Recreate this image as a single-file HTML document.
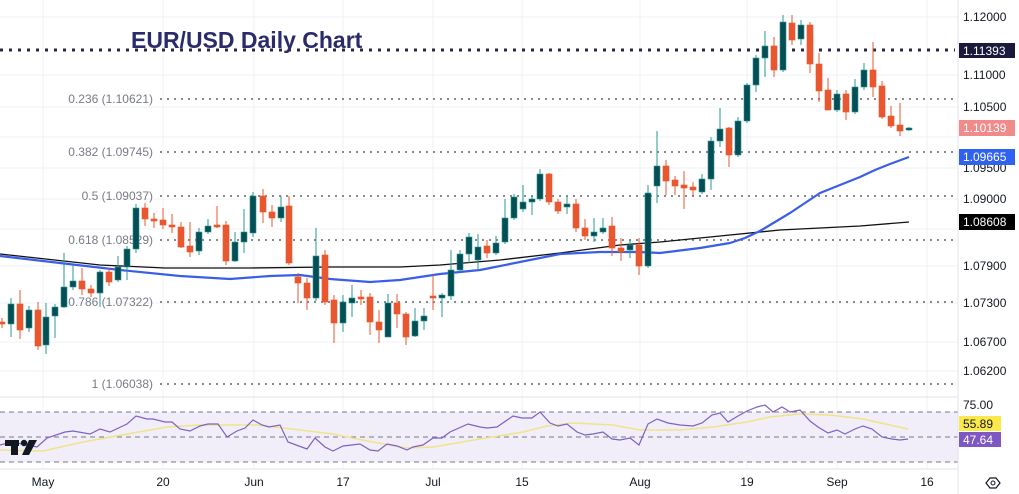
<!DOCTYPE html>
<html><head><meta charset="utf-8"><style>
html,body{margin:0;padding:0;background:#fff;width:1019px;height:494px;overflow:hidden}
svg{display:block;font-family:"Liberation Sans",sans-serif}
</style></head><body>
<svg id="s" width="1019" height="494" viewBox="0 0 1019 494" xmlns="http://www.w3.org/2000/svg">
<rect width="1019" height="494" fill="#fff"/>
<g stroke="#eef0f3" stroke-width="1">
<line x1="43" y1="0" x2="43" y2="469"/><line x1="163" y1="0" x2="163" y2="469"/><line x1="254" y1="0" x2="254" y2="469"/><line x1="343" y1="0" x2="343" y2="469"/><line x1="433" y1="0" x2="433" y2="469"/><line x1="522" y1="0" x2="522" y2="469"/><line x1="640" y1="0" x2="640" y2="469"/><line x1="747" y1="0" x2="747" y2="469"/><line x1="837" y1="0" x2="837" y2="469"/><line x1="927" y1="0" x2="927" y2="469"/>
<line x1="0" y1="17" x2="958" y2="17"/><line x1="0" y1="75" x2="958" y2="75"/><line x1="0" y1="107" x2="958" y2="107"/><line x1="0" y1="137" x2="958" y2="137"/><line x1="0" y1="168" x2="958" y2="168"/><line x1="0" y1="199" x2="958" y2="199"/><line x1="0" y1="229" x2="958" y2="229"/><line x1="0" y1="266" x2="958" y2="266"/><line x1="0" y1="303" x2="958" y2="303"/><line x1="0" y1="342" x2="958" y2="342"/><line x1="0" y1="371" x2="958" y2="371"/>
</g>
<g font-size="12" fill="#787b86" text-anchor="end">
<text x="153" y="103">0.236 (1.10621)</text>
<text x="153" y="156">0.382 (1.09745)</text>
<text x="153" y="200">0.5 (1.09037)</text>
<text x="153" y="244">0.618 (1.08529)</text>
<text x="153" y="306">0.786 (1.07322)</text>
<text x="153" y="388">1 (1.06038)</text>
</g>
<g stroke="#8a8a8a" stroke-width="2" stroke-dasharray="2 5">
<line x1="160" y1="99" x2="955" y2="99"/><line x1="160" y1="152" x2="955" y2="152"/><line x1="160" y1="196" x2="955" y2="196"/><line x1="160" y1="240" x2="955" y2="240"/><line x1="160" y1="302" x2="955" y2="302"/><line x1="160" y1="384" x2="955" y2="384"/>
</g>
<line x1="0" y1="50" x2="955" y2="50" stroke="#2a2840" stroke-width="3" stroke-dasharray="3 6"/>
<text x="131" y="48" font-size="23" font-weight="bold" fill="#2b2b6b">EUR/USD Daily Chart</text>
<polyline fill="none" stroke="#111" stroke-width="1.3" stroke-linejoin="round" points="0,254 100,265 165,268 250,268 330,267 400,267 440,265 500,260 560,253 620,245 660,242 720,236 780,230 860,226 909,222"/>
<polyline fill="none" stroke="#3a5ee8" stroke-width="2.2" stroke-linejoin="round" points="0,256 60,263 120,270 180,276 230,279 270,276 300,275 330,279 370,282 400,280 440,274 480,270 520,262 560,254 600,252 640,252 660,253 700,248 730,243 745,238 760,231 775,222 790,213 805,203 820,193 840,185 860,177 875,170 890,164 909,157"/>
<g id="c"></g>
<line x1="0" y1="397" x2="958" y2="397" stroke="#e0e3eb"/>
<rect x="0" y="412" width="958" height="50" fill="#f1eefa"/>
<g stroke="#787b86" stroke-dasharray="5 4" stroke-width="1"><line x1="0" y1="412" x2="958" y2="412"/><line x1="0" y1="437" x2="958" y2="437"/><line x1="0" y1="462" x2="958" y2="462"/></g>
<polyline fill="none" stroke="#f0e38a" stroke-width="1.6" points="0,450 43,451 83,442 133,433 167,427 200,425 257,425 300,430 333,434 367,441 407,448 433,447 480,439 523,432 547,426 573,423 613,425 640,430 680,430 713,427 747,422 770,417 800,414 830,415 863,419 908,429"/>
<polyline fill="none" stroke="#7e62c2" stroke-width="1.2" points="0,445 12,442 37,447 47,438 65,432 73,431 90,434 100,429 110,432 127,424 136,416 147,419 153,419 165,422 172,422 180,429 190,431 200,426 208,424 218,424 227,437 237,431 245,428 253,420 262,425 269,427 280,425 288,442 307,449 315,438 325,447 333,451 343,446 360,444 370,450 378,451 387,444 397,446 407,450 413,447 423,445 433,438 442,438 450,432 468,424 480,427 487,428 497,427 513,416 522,418 532,418 540,412 550,423 558,426 567,424 577,432 585,435 593,434 603,432 612,439 620,440 630,438 639,445 648,424 657,419 668,423 680,425 693,426 702,423 712,415 720,413 728,422 738,416 747,411 757,407 765,405 773,412 782,407 790,412 800,410 810,421 818,427 828,433 837,430 845,434 855,429 863,426 872,429 882,437 892,439 900,440 908,439"/>
<g fill="#131722"><rect x="5" y="440" width="14" height="6"/><rect x="11" y="440" width="7" height="15"/><circle cx="24" cy="443" r="3.2"/><polygon points="29,440 37,440 29,455 22,455"/></g>
<line x1="0" y1="469" x2="958" y2="469" stroke="#e0e3eb"/>
<line x1="958" y1="0" x2="958" y2="494" stroke="#e0e3eb"/>
<g font-size="12" fill="#131722" text-anchor="middle">
<text x="43" y="486">May</text><text x="163" y="486">20</text><text x="254" y="486">Jun</text><text x="343" y="486">17</text><text x="433" y="486">Jul</text><text x="522" y="486">15</text><text x="640" y="486">Aug</text><text x="747" y="486">19</text><text x="837" y="486">Sep</text><text x="927" y="486">16</text>
</g>
<g font-size="12" fill="#131722">
<text x="963" y="21">1.12000</text><text x="963" y="79">1.11000</text><text x="963" y="111">1.10500</text><text x="963" y="172">1.09500</text><text x="963" y="203">1.09000</text><text x="963" y="270">1.07900</text><text x="963" y="307">1.07300</text><text x="963" y="346">1.06700</text><text x="963" y="375">1.06200</text><text x="963" y="409">75.00</text>
</g>
<rect x="959" y="43" width="56" height="15" fill="#1c1a3c"/><text x="963" y="55" font-size="12" fill="#fff">1.11393</text>
<rect x="959" y="120" width="56" height="16" fill="#f28a8a"/><text x="963" y="132" font-size="12" fill="#fff">1.10139</text>
<rect x="959" y="149" width="56" height="16" fill="#2f62f0"/><text x="963" y="161" font-size="12" fill="#fff">1.09665</text>
<rect x="959" y="214" width="56" height="16" fill="#000"/><text x="963" y="226" font-size="12" fill="#fff">1.08608</text>
<rect x="959" y="416" width="42" height="15" fill="#fbe84a"/><text x="963" y="428" font-size="12" fill="#131722">55.89</text>
<rect x="959" y="432" width="42" height="15" fill="#7e57c2"/><text x="963" y="444" font-size="12" fill="#fff">47.64</text>
<polygon points="986,483 990,478 996,478 1000,483 996,488 990,488" fill="none" stroke="#131722" stroke-width="1.2"/><circle cx="993" cy="483" r="2" fill="none" stroke="#131722"/>
</svg>
<script>
var d=[[2,322,324],[11,324,304,298,337],[20,304,330,290,339],[29,328,310],[38,310,346,302,350],[46,345,317,303,354],[55,316,307,304,338],[64,307,287,253,308],[73,287,281,265,290],[82,281,289,268,295],[91,289,293],[100,293,272,270,307],[109,272,282],[118,280,267,256,282],[127,267,249,246,280],[136,249,208],[145,208,219,203,226],[154,219,219,213,228],[163,220,225,208],[172,225,227,214,233],[181,227,247,222,248],[190,246,252,222,257],[199,251,232],[208,232,226,219,234],[217,225,226,206,228],[226,225,261],[235,261,242,232,262],[244,242,232,209,253],[253,233,196],[263,196,212,189,223],[272,212,218,205,227],[281,218,207,196,222],[289,206,263,196,265],[298,277,283,273,303],[307,283,298,278,310],[316,298,256,228,301],[325,255,302,250,305],[334,300,323,295,343],[343,323,302,295,332],[352,303,298,285,317],[361,297,297,290,305],[370,297,322,293,335],[379,322,330,310,343],[388,337,303,294,337],[397,303,314,294,328],[406,314,337,312,345],[415,336,321,308,337],[424,321,316,308,330],[433,296,298,275,310],[442,298,295,293,317],[451,296,270,250,300],[460,270,254,250,272],[469,254,237,233,263],[478,260,247,234,270],[487,246,253,240,258],[496,253,243,236,255],[505,242,218,199,244],[514,218,197,194,220],[523,209,202,185,212],[532,202,199,196,215],[540,199,174,169,201],[549,174,202,173,205],[558,202,211,199,214],[567,207,204,197,214],[576,204,228,199,232],[585,228,236,219,240],[594,236,232,218,242],[603,232,228,218,234],[612,226,248,217,256],[621,248,252,238,261],[630,250,245,240,258],[639,245,266,238,275],[648,266,193,185,268],[657,186,166,131,203],[666,166,181,160,195],[675,180,186,176,195],[684,185,188,171,209],[693,187,190,182,196],[702,192,179,174,194],[711,179,141,137,190],[720,141,129,108,147],[729,128,155,127,167],[738,155,121,117,157],[747,121,85,83,123],[756,85,58,55,92],[765,58,46,31,77],[774,46,70,37,77],[783,70,22,15,72],[792,23,40,15,45],[801,39,25,20,45],[810,25,64,22,73],[819,64,91,53,102],[828,90,110,78,110],[837,110,94,90,112],[846,94,112,90,120],[855,112,87,79,114],[864,87,70,63,90],[873,70,87,42,97],[882,86,117,81,119],[891,116,126,106,128],[900,125,131,103,136],[909,130,128,127,131]];
var h='';d.forEach(function(c){var x=c[0],o=c[1],cl=c[2],top=Math.min(o,cl),bot=Math.max(o,cl);var hi=c[3]!==undefined?c[3]:top-4,lo=c[4]!==undefined?c[4]:bot+4;var up=cl<o||(cl==o&&x==909);var bc=up?'#064e56':'#e8572f',wc=up?'#2b9a93':'#e8572f';var bh=Math.max(bot-top,2);h+='<line x1="'+x+'" y1="'+hi+'" x2="'+x+'" y2="'+lo+'" stroke="'+wc+'" stroke-width="1"/>';h+='<rect x="'+(x-3)+'" y="'+top+'" width="6" height="'+bh+'" fill="'+bc+'" stroke="'+wc+'" stroke-width="0.6"/>';});
document.getElementById('c').innerHTML=h;
</script>
</body></html>
